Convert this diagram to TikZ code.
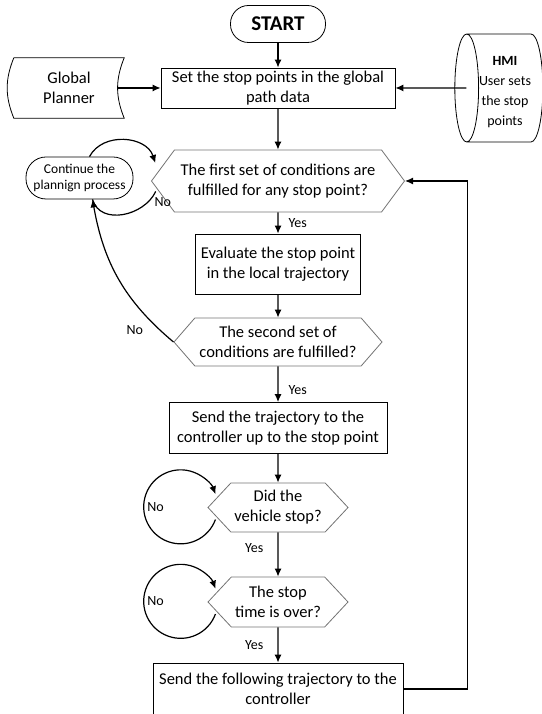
\documentclass[tikz,border=0pt]{standalone}
\usepackage{fontspec}
\setmainfont{Carlito}
\usetikzlibrary{arrows.meta,positioning,shapes.symbols,shapes.geometric}

\begin{document}
\begin{tikzpicture}[
            x=1pt, y=1pt,
            every node/.style={font=\fontsize{16.5}{20}\selectfont, align=center, inner sep=2pt},
            box/.style={draw, line width=.8pt},
            term/.style={draw, line width=.8pt, rounded corners=#1},
            hexa/.style={draw=black!55, line width=.8pt, signal, signal to=west and east},
            flow/.style={-{Latex[length=8pt,width=7pt]}, line width=1.2pt},
            lbl/.style={font=\fontsize{14}{16}\selectfont, inner sep=2pt}]

        \useasboundingbox (0,0) rectangle (541,714);

        % top row
        \node[term=18pt, minimum width=95pt, minimum height=37pt,
            font=\fontsize{21}{24}\selectfont\bfseries] (start) at (278,690) {START};
        \node[box, minimum width=234pt, minimum height=40pt] (set) at (278,626)
            {Set the stop points in the global\\path data};
        \node[minimum width=110pt, minimum height=60pt] (gp) at (69,626) {Global\\Planner};
        \draw[line width=.8pt] (gp.north west) -- (gp.north east) to[bend right=22] (gp.south east)
            -- (gp.south west) to[bend left=22] (gp.north west);
        \node[draw, line width=.8pt, cylinder, shape border rotate=180, aspect=.3,
            minimum width=108pt, minimum height=83pt, inner sep=0pt,
            font=\fontsize{14}{20}\selectfont] (hmi) at (505,626)
            {\rule{0pt}{17pt}\textbf{HMI}\\User sets\\the stop\\points};

        % main column
        \node[hexa, minimum width=253pt, minimum height=62pt, signal pointer angle=107] (h1) at (278,533)
            {The first set of conditions are\\fulfilled for any stop point?};
        \node[term=20pt, minimum width=107pt, minimum height=42pt, inner sep=1pt,
            font=\fontsize{13.5}{16}\selectfont] (cont) at (79.5,536) {Continue the\\plannign process};
        \node[box, minimum width=165pt, minimum height=60pt] (ev) at (278,450)
            {Evaluate the stop point\\in the local trajectory};
        \node[hexa, minimum width=208pt, minimum height=48pt, signal pointer angle=98] (h2) at (278,372)
            {The second set of\\conditions are fulfilled?};
        \node[box, minimum width=218pt, minimum height=51pt] (send) at (278,286)
            {Send the trajectory to the\\controller up to the stop point};
        \node[hexa, minimum width=140pt, minimum height=49pt, signal pointer angle=94] (h3) at (278,206.5)
            {Did the\\vehicle stop?};
        \node[hexa, minimum width=140pt, minimum height=50pt, signal pointer angle=94] (h4) at (278,112)
            {The stop\\time is over?};
        \node[box, minimum width=250pt, minimum height=52pt] (fin) at (278,25)
            {Send the following trajectory to the\\controller};

        \draw[flow] (start) -- (set);
        \draw[flow] ([xshift=-6pt]gp.east) -- (set);
        \draw[flow] ([xshift=12pt]hmi.west) -- (set);
        \draw[flow] (set) -- (h1);
        \draw[flow] (h1) -- node[lbl, right=8pt] {Yes} (ev);
        \draw[flow] (ev) -- (h2);
        \draw[flow] (h2) -- node[lbl, right=8pt, pos=.66] {Yes} (send);
        \draw[flow] (send) -- (h3);
        \draw[flow] (h3) -- node[lbl, left=12pt, pos=.36] {Yes} (h4);
        \draw[flow] (h4) -- node[lbl, left=12pt] {Yes} (fin);
        \draw[flow] (fin.east) -- ++(64pt,0) |- (h1.east);

        % loops
        \draw[flow] ([xshift=10pt]cont.north) to[out=62,in=108,looseness=1.1] ([xshift=-9pt]h1.171);
        \draw[line width=1.2pt] ([xshift=-3pt]h1.185) node[lbl, below=4pt, inner sep=1pt, xshift=7pt] {No}
            to[out=-115,in=-74,looseness=1.1] ([xshift=13pt]cont.south);
        \draw[flow] (h2.west) to[out=140,in=-80] node[lbl, pos=.1, left=14pt] {No} ([xshift=13pt]cont.south);
        \draw[flow] ([shift={(8pt,-12pt)}]h3.west) arc[start angle=-20, end angle=-340, radius=37pt]
            node[lbl, pos=.5, right=1pt] {No};
        \draw[flow] ([shift={(8pt,-12pt)}]h4.west) arc[start angle=-20, end angle=-340, radius=37pt]
            node[lbl, pos=.5, right=1pt] {No};
    \end{tikzpicture}
\end{document}
